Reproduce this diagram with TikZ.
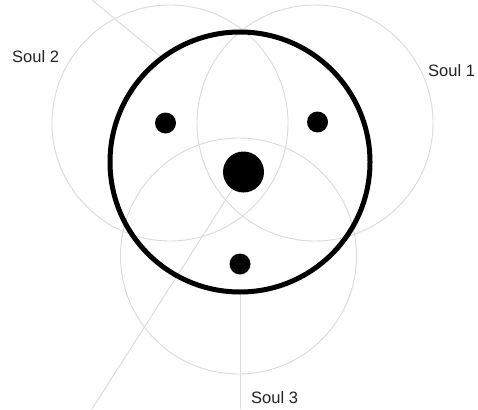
\documentclass[tikz,border=0pt]{standalone}
\usepackage{fontspec}
\setmainfont{Liberation Sans}
\usetikzlibrary{backgrounds}
\definecolor{faint}{RGB}{218,218,218}
\definecolor{labelgray}{RGB}{35,35,35}
\tikzset{
  soulring/.style={circle, draw=faint, line width=0.9pt, minimum size=236pt, inner sep=0pt},
  bigring/.style={circle, draw=black, line width=5pt, minimum size=260pt, inner sep=0pt},
  dotnode/.style={circle, fill=black, inner sep=0pt},
  ray/.style={draw=faint, line width=0.9pt},
  soullabel/.style={anchor=base west, inner sep=0pt, text=labelgray, font=\fontsize{16.5}{18}\selectfont}
}
\begin{document}
\begin{tikzpicture}[x=1pt,y=-1pt]
\useasboundingbox (0,0) rectangle (478,409);
% main ring and dots
\node[bigring] (ring) at (240,162) {};
\node[dotnode, minimum size=41pt] (center) at (243.5,172) {};
\node[dotnode, minimum size=21pt] (d2) at (165.5,123) {};
\node[dotnode, minimum size=21pt] (d1) at (317.5,122) {};
\node[dotnode, minimum size=21pt] (d3) at (240,264) {};
% ray ends
\coordinate (ul) at (92,0);
\coordinate (ll) at (92,409);
\coordinate (bot) at (240,409);
\begin{pgfonlayer}{background}
  \fill[white] (0,0) rectangle (478,409);
  \node[soulring] (c2) at (170,123) {};
  \node[soulring] (c1) at (315,123) {};
  \node[soulring] (c3) at (238.5,256) {};
  \draw[ray] (ul) -- (ring.127.5);
  \draw[ray] (center) -- (ll);
  \draw[ray] (ring.south) -- (bot);
\end{pgfonlayer}
% labels
\node[soullabel] (l2) at (12,63) {Soul 2};
\node[soullabel] (l1) at (428,77) {Soul 1};
\node[soullabel] (l3) at (251,403) {Soul 3};
\end{tikzpicture}
\end{document}
